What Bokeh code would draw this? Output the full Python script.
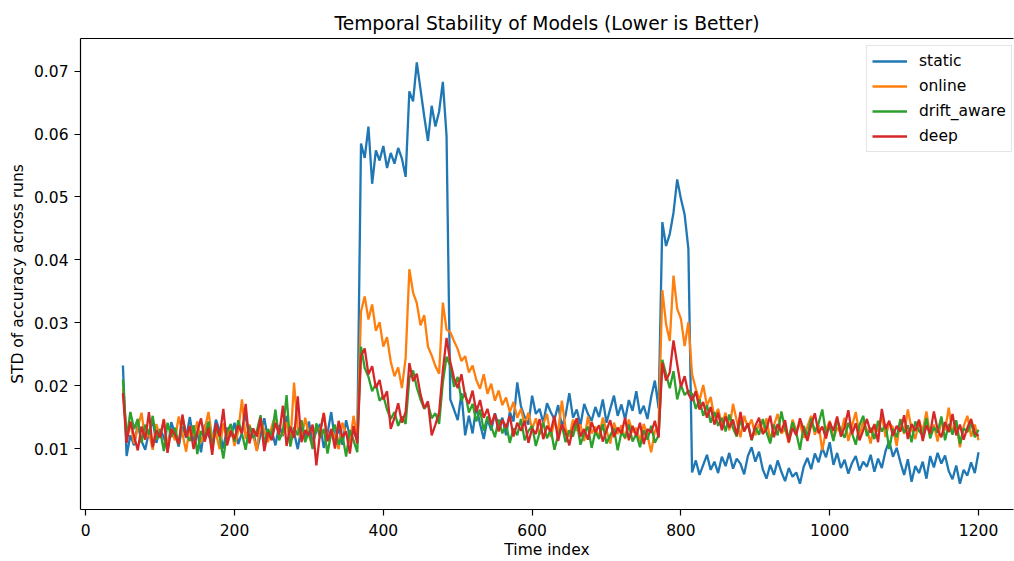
from bokeh.plotting import figure
from bokeh.models import (Range1d, FixedTicker, LinearAxis, Legend, LegendItem,
                          PrintfTickFormatter, ColumnDataSource)
from bokeh.embed import file_html
from bokeh.resources import INLINE

# ---------------- data (one value every 5 time steps) -------------
time_index = list(range(50, 1201, 5))

series_names = ["static", "online", "drift_aware", "deep"]
series_colors = ["#1f77b4", "#ff7f0e", "#2ca02c", "#d62728"]

static_std = (
    # t = 50 .. 365
    [0.0232, 0.0088, 0.0121, 0.0105, 0.0139, 0.0112, 0.0098, 0.0127, 0.0145, 0.0109,
     0.0131, 0.0118, 0.0096, 0.0142, 0.0124, 0.0103, 0.0135, 0.0117, 0.0150, 0.0111,
     0.0126, 0.0094, 0.0138, 0.0121, 0.0109, 0.0146, 0.0128, 0.0100, 0.0133, 0.0119,
     0.0141, 0.0107, 0.0125, 0.0156, 0.0114, 0.0131, 0.0097, 0.0122, 0.0148, 0.0116,
     0.0129, 0.0105, 0.0137, 0.0120, 0.0152, 0.0111, 0.0126, 0.0099, 0.0134, 0.0117,
     0.0143, 0.0108, 0.0128, 0.0139, 0.0101, 0.0124, 0.0158, 0.0113, 0.0132, 0.0106,
     0.0145, 0.0119, 0.0128, 0.0112]
    # t = 370 .. 485
    + [0.0585, 0.0562, 0.0612, 0.0521, 0.0574, 0.0558, 0.0581, 0.0546, 0.0570, 0.0553,
       0.0578, 0.0561, 0.0532, 0.0668, 0.0652, 0.0714, 0.0671, 0.0628, 0.0589, 0.0645,
       0.0612, 0.0636, 0.0683, 0.0597]
    # t = 490 .. 770
    + [0.0178, 0.0162, 0.0145, 0.0188, 0.0121, 0.0152, 0.0124, 0.0168, 0.0139, 0.0115,
       0.0147, 0.0129, 0.0156, 0.0136, 0.0149, 0.0121, 0.0158, 0.0143, 0.0205, 0.0167,
       0.0150, 0.0138, 0.0184, 0.0155, 0.0163, 0.0141, 0.0172, 0.0158, 0.0146, 0.0169,
       0.0135, 0.0153, 0.0188, 0.0149, 0.0162, 0.0137, 0.0171, 0.0155, 0.0144, 0.0166,
       0.0150, 0.0178, 0.0141, 0.0163, 0.0184, 0.0152, 0.0170, 0.0146, 0.0177, 0.0160,
       0.0191, 0.0155, 0.0168, 0.0147, 0.0182, 0.0208, 0.0164]
    # t = 775 .. 810
    + [0.0460, 0.0422, 0.0441, 0.0475, 0.0528, 0.0497, 0.0472, 0.0418]
    # t = 815 .. 1200
    + [0.0062, 0.0081, 0.0058, 0.0074, 0.0090, 0.0066, 0.0079, 0.0061, 0.0087, 0.0072,
       0.0093, 0.0068, 0.0084, 0.0076, 0.0059, 0.0088, 0.0102, 0.0079, 0.0095, 0.0067,
       0.0052, 0.0074, 0.0058, 0.0081, 0.0063, 0.0048, 0.0069, 0.0055, 0.0062, 0.0044,
       0.0071, 0.0085, 0.0067, 0.0092, 0.0078, 0.0101, 0.0086, 0.0110, 0.0074, 0.0093,
       0.0069, 0.0082, 0.0060, 0.0077, 0.0088, 0.0065, 0.0079, 0.0071, 0.0090, 0.0063,
       0.0084, 0.0069, 0.0096, 0.0112, 0.0087, 0.0101, 0.0078, 0.0058, 0.0083, 0.0047,
       0.0072, 0.0061, 0.0079, 0.0052, 0.0088, 0.0070, 0.0093, 0.0076, 0.0089, 0.0064,
       0.0051, 0.0073, 0.0044, 0.0066, 0.0057, 0.0078, 0.0061, 0.0094]
)

online_std = (
    [0.0195, 0.0121, 0.0142, 0.0108, 0.0133, 0.0157, 0.0115, 0.0126, 0.0098, 0.0139,
     0.0118, 0.0147, 0.0102, 0.0129, 0.0113, 0.0151, 0.0124, 0.0095, 0.0136, 0.0120,
     0.0143, 0.0109, 0.0131, 0.0158, 0.0117, 0.0125, 0.0099, 0.0140, 0.0112, 0.0134,
     0.0104, 0.0127, 0.0178, 0.0115, 0.0138, 0.0121, 0.0096, 0.0146, 0.0128, 0.0110,
     0.0135, 0.0153, 0.0118, 0.0123, 0.0142, 0.0106, 0.0205, 0.0132, 0.0114, 0.0149,
     0.0121, 0.0103, 0.0137, 0.0126, 0.0157, 0.0111, 0.0130, 0.0119, 0.0099, 0.0141,
     0.0124, 0.0108, 0.0152, 0.0117]
    + [0.0318, 0.0342, 0.0305, 0.0329, 0.0287, 0.0301, 0.0262, 0.0277, 0.0238, 0.0215,
       0.0229, 0.0196, 0.0244, 0.0385, 0.0348, 0.0331, 0.0296, 0.0312, 0.0262, 0.0248,
       0.0231, 0.0219, 0.0332, 0.0289]
    + [0.0285, 0.0271, 0.0258, 0.0239, 0.0247, 0.0221, 0.0232, 0.0209, 0.0195, 0.0218,
       0.0187, 0.0203, 0.0176, 0.0192, 0.0169, 0.0181, 0.0158, 0.0174, 0.0149, 0.0163,
       0.0138, 0.0157, 0.0131, 0.0148, 0.0122, 0.0139, 0.0155, 0.0118, 0.0143, 0.0127,
       0.0176, 0.0132, 0.0119, 0.0146, 0.0128, 0.0138, 0.0112, 0.0151, 0.0124, 0.0135,
       0.0117, 0.0149, 0.0129, 0.0108, 0.0141, 0.0123, 0.0137, 0.0115, 0.0146, 0.0126,
       0.0133, 0.0111, 0.0139, 0.0121, 0.0094, 0.0128, 0.0135]
    + [0.0352, 0.0298, 0.0271, 0.0375, 0.0322, 0.0306, 0.0263, 0.0301]
    + [0.0218, 0.0195, 0.0176, 0.0201, 0.0168, 0.0182, 0.0149, 0.0163, 0.0138, 0.0157,
       0.0129, 0.0171, 0.0144, 0.0118, 0.0152, 0.0133, 0.0146, 0.0121, 0.0139, 0.0126,
       0.0148, 0.0113, 0.0137, 0.0155, 0.0124, 0.0131, 0.0109, 0.0146, 0.0128, 0.0140,
       0.0117, 0.0135, 0.0152, 0.0122, 0.0138, 0.0097, 0.0129, 0.0144, 0.0116, 0.0133,
       0.0125, 0.0149, 0.0112, 0.0136, 0.0158, 0.0121, 0.0143, 0.0130, 0.0108, 0.0139,
       0.0127, 0.0154, 0.0118, 0.0141, 0.0133, 0.0104, 0.0147, 0.0123, 0.0162, 0.0131,
       0.0115, 0.0144, 0.0128, 0.0159, 0.0120, 0.0138, 0.0111, 0.0146, 0.0129, 0.0165,
       0.0124, 0.0141, 0.0102, 0.0135, 0.0152, 0.0119, 0.0138, 0.0113]
)

drift_aware_std = (
    [0.0210, 0.0116, 0.0158, 0.0131, 0.0147, 0.0109, 0.0138, 0.0122, 0.0152, 0.0114,
     0.0129, 0.0096, 0.0141, 0.0118, 0.0133, 0.0106, 0.0149, 0.0123, 0.0112, 0.0137,
     0.0091, 0.0128, 0.0115, 0.0143, 0.0102, 0.0132, 0.0119, 0.0084, 0.0126, 0.0139,
     0.0111, 0.0145, 0.0124, 0.0098, 0.0136, 0.0117, 0.0128, 0.0153, 0.0108, 0.0131,
     0.0120, 0.0162, 0.0113, 0.0127, 0.0185, 0.0103, 0.0134, 0.0121, 0.0145, 0.0110,
     0.0128, 0.0099, 0.0140, 0.0117, 0.0131, 0.0092, 0.0125, 0.0138, 0.0106, 0.0122,
     0.0087, 0.0129, 0.0113, 0.0094]
    + [0.0262, 0.0228, 0.0214, 0.0191, 0.0203, 0.0176, 0.0184, 0.0162, 0.0147, 0.0158,
       0.0136, 0.0151, 0.0139, 0.0212, 0.0224, 0.0197, 0.0178, 0.0163, 0.0171, 0.0148,
       0.0156, 0.0139, 0.0205, 0.0246]
    + [0.0231, 0.0198, 0.0214, 0.0176, 0.0189, 0.0157, 0.0171, 0.0143, 0.0162, 0.0128,
       0.0151, 0.0135, 0.0118, 0.0146, 0.0124, 0.0139, 0.0109, 0.0132, 0.0121, 0.0147,
       0.0113, 0.0128, 0.0136, 0.0104, 0.0125, 0.0141, 0.0116, 0.0131, 0.0098, 0.0122,
       0.0137, 0.0110, 0.0129, 0.0119, 0.0143, 0.0106, 0.0124, 0.0135, 0.0101, 0.0127,
       0.0115, 0.0139, 0.0108, 0.0121, 0.0132, 0.0097, 0.0126, 0.0117, 0.0138, 0.0111,
       0.0123, 0.0102, 0.0129, 0.0114, 0.0136, 0.0109, 0.0121]
    + [0.0241, 0.0218, 0.0196, 0.0223, 0.0178, 0.0201, 0.0185, 0.0192]
    + [0.0187, 0.0163, 0.0178, 0.0152, 0.0169, 0.0141, 0.0158, 0.0136, 0.0149, 0.0127,
       0.0154, 0.0132, 0.0119, 0.0145, 0.0128, 0.0139, 0.0113, 0.0134, 0.0122, 0.0147,
       0.0126, 0.0108, 0.0138, 0.0121, 0.0159, 0.0131, 0.0117, 0.0142, 0.0125, 0.0098,
       0.0136, 0.0119, 0.0148, 0.0127, 0.0140, 0.0162, 0.0123, 0.0135, 0.0112, 0.0146,
       0.0129, 0.0117, 0.0141, 0.0124, 0.0106, 0.0137, 0.0152, 0.0120, 0.0133, 0.0115,
       0.0144, 0.0127, 0.0139, 0.0099, 0.0131, 0.0118, 0.0146, 0.0125, 0.0137, 0.0110,
       0.0143, 0.0128, 0.0121, 0.0148, 0.0116, 0.0134, 0.0125, 0.0151, 0.0113, 0.0139,
       0.0122, 0.0145, 0.0107, 0.0132, 0.0126, 0.0141, 0.0118, 0.0130]
)

deep_std = (
    [0.0188, 0.0109, 0.0143, 0.0120, 0.0097, 0.0135, 0.0114, 0.0158, 0.0102, 0.0129,
     0.0117, 0.0146, 0.0093, 0.0131, 0.0122, 0.0107, 0.0154, 0.0118, 0.0136, 0.0099,
     0.0127, 0.0148, 0.0111, 0.0133, 0.0090, 0.0140, 0.0119, 0.0163, 0.0105, 0.0128,
     0.0115, 0.0137, 0.0124, 0.0171, 0.0108, 0.0132, 0.0119, 0.0149, 0.0096, 0.0126,
     0.0113, 0.0141, 0.0122, 0.0168, 0.0104, 0.0135, 0.0117, 0.0183, 0.0110, 0.0129,
     0.0121, 0.0138, 0.0073, 0.0125, 0.0156, 0.0112, 0.0131, 0.0100, 0.0144, 0.0118,
     0.0127, 0.0092, 0.0136, 0.0108]
    + [0.0247, 0.0259, 0.0218, 0.0231, 0.0196, 0.0209, 0.0178, 0.0191, 0.0131, 0.0149,
       0.0172, 0.0141, 0.0158, 0.0236, 0.0207, 0.0219, 0.0186, 0.0164, 0.0175, 0.0121,
       0.0138, 0.0157, 0.0224, 0.0276]
    + [0.0238, 0.0212, 0.0196, 0.0218, 0.0183, 0.0171, 0.0192, 0.0158, 0.0177, 0.0149,
       0.0163, 0.0138, 0.0155, 0.0127, 0.0146, 0.0133, 0.0152, 0.0119, 0.0141, 0.0128,
       0.0144, 0.0109, 0.0132, 0.0123, 0.0147, 0.0115, 0.0136, 0.0127, 0.0152, 0.0112,
       0.0139, 0.0125, 0.0105, 0.0134, 0.0148, 0.0119, 0.0131, 0.0114, 0.0142, 0.0126,
       0.0137, 0.0111, 0.0129, 0.0145, 0.0118, 0.0133, 0.0124, 0.0149, 0.0113, 0.0136,
       0.0120, 0.0141, 0.0107, 0.0131, 0.0125, 0.0144, 0.0117]
    + [0.0236, 0.0208, 0.0221, 0.0272, 0.0234, 0.0198, 0.0215, 0.0187]
    + [0.0176, 0.0191, 0.0162, 0.0174, 0.0149, 0.0166, 0.0138, 0.0157, 0.0129, 0.0151,
       0.0133, 0.0146, 0.0121, 0.0158, 0.0127, 0.0140, 0.0114, 0.0136, 0.0149, 0.0123,
       0.0131, 0.0152, 0.0118, 0.0139, 0.0126, 0.0145, 0.0110, 0.0133, 0.0121, 0.0148,
       0.0129, 0.0112, 0.0137, 0.0156, 0.0124, 0.0135, 0.0116, 0.0142, 0.0128, 0.0151,
       0.0119, 0.0134, 0.0161, 0.0123, 0.0140, 0.0113, 0.0129, 0.0147, 0.0125, 0.0138,
       0.0110, 0.0163, 0.0131, 0.0144, 0.0120, 0.0136, 0.0127, 0.0153, 0.0115, 0.0139,
       0.0128, 0.0146, 0.0112, 0.0137, 0.0124, 0.0159, 0.0130, 0.0118, 0.0142, 0.0126,
       0.0155, 0.0121, 0.0138, 0.0114, 0.0133, 0.0147, 0.0125, 0.0120]
)

x_ticks = [0, 200, 400, 600, 800, 1000, 1200]
y_ticks = [0.01, 0.02, 0.03, 0.04, 0.05, 0.06, 0.07]

title_text = "Temporal Stability of Models (Lower is Better)"
x_label = "Time index"
y_label = "STD of accuracy across runs"

# ---------------- figure ----------------
FONT = "DejaVu Sans"
p = figure(width=1014, height=561, output_backend="svg", toolbar_location=None,
           x_range=Range1d(-7, 1247), y_range=Range1d(0.0003, 0.0752),
           min_border_left=80, min_border_right=1, min_border_top=38, min_border_bottom=51)
p.background_fill_color = "white"
p.border_fill_color = "white"
p.outline_line_color = None
p.xgrid.visible = False
p.ygrid.visible = False

p.title.text = title_text
p.title.align = "center"
p.title.text_font = FONT
p.title.text_font_size = "18.7px"
p.title.text_font_style = "normal"
p.title.text_color = "black"
p.title.standoff = 9
p.title.offset = 3

for ax in (p.xaxis[0], p.yaxis[0]):
    ax.axis_line_color = "black"
    ax.axis_line_width = 1.2
    ax.major_tick_line_color = "black"
    ax.major_tick_line_width = 1.2
    ax.major_tick_out = 6
    ax.major_tick_in = 0
    ax.minor_tick_line_color = None
    ax.major_label_text_font = FONT
    ax.major_label_text_font_size = "15.5px"
    ax.major_label_text_color = "black"
    ax.axis_label_text_font = FONT
    ax.axis_label_text_font_size = "15.5px"
    ax.axis_label_text_font_style = "normal"
    ax.axis_label_text_color = "black"

p.xaxis.ticker = FixedTicker(ticks=x_ticks)
p.yaxis.ticker = FixedTicker(ticks=y_ticks)
p.yaxis.formatter = PrintfTickFormatter(format="%.2f")
p.xaxis.axis_label = x_label
p.yaxis.axis_label = y_label
p.xaxis.major_label_standoff = 8
p.xaxis.axis_label_standoff = 2
p.yaxis.major_label_standoff = 6
p.yaxis.axis_label_standoff = 4

# top spine only (right spine is cut off in the reference)
top = LinearAxis(ticker=FixedTicker(ticks=[]), axis_line_color="black", axis_line_width=1.2,
                 major_tick_line_color=None, minor_tick_line_color=None,
                 major_label_text_font_size="0px")
p.add_layout(top, "above")

source = ColumnDataSource(dict(t=time_index, static=static_std, online=online_std,
                               drift_aware=drift_aware_std, deep=deep_std))
items = []
for name, color in zip(series_names, series_colors):
    r = p.line("t", name, source=source, line_color=color, line_width=2.3)
    items.append(LegendItem(label=name, renderers=[r]))

legend = Legend(items=items, location=(786, 357),
                label_text_font=FONT, label_text_font_size="15.5px", label_text_color="black",
                glyph_width=35, glyph_height=20, label_height=20, label_standoff=12,
                spacing=5, padding=5, margin=0,
                border_line_color="#cccccc", border_line_width=1,
                background_fill_color="white", background_fill_alpha=0.8)
p.add_layout(legend)

open("out.html", "w").write(file_html(p, INLINE))
